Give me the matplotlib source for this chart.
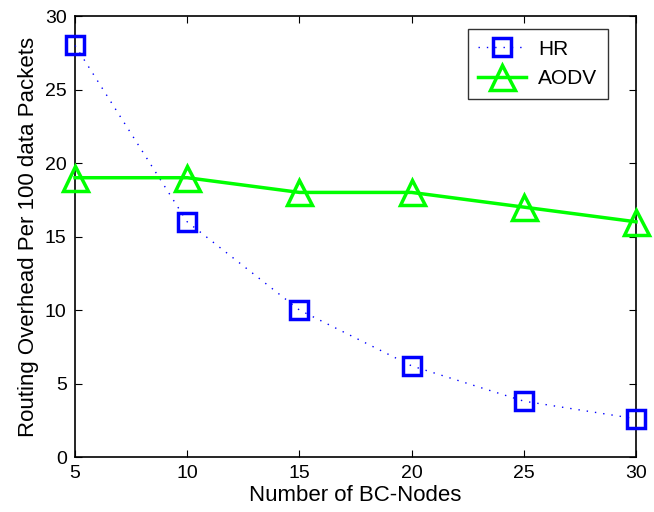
import matplotlib
matplotlib.use("Agg")
import matplotlib.pyplot as plt

x_nodes = [5, 10, 15, 20, 25, 30]
hr = [28, 16, 10, 6.2, 3.8, 2.6]
aodv = [19, 19, 18, 18, 17, 16]
xticks = [5, 10, 15, 20, 25, 30]
yticks = [0, 5, 10, 15, 20, 25, 30]

plt.rcParams['font.family'] = ['Liberation Sans', 'DejaVu Sans']

fig = plt.figure(figsize=(6.54, 5.12), dpi=100)
ax = fig.add_axes([0.1147, 0.1074, 0.8578, 0.8613])

ax.plot(x_nodes, hr, color='#0000ff', linestyle=(0, (1, 5)), linewidth=1.0,
        marker='s', markersize=13, markerfacecolor='none',
        markeredgecolor='#0000ff', markeredgewidth=2.5, label='HR', clip_on=False, zorder=3)
ax.plot(x_nodes, aodv, color='#00ff00', linestyle='-', linewidth=2.5,
        marker='^', markersize=18, markerfacecolor='none',
        markeredgecolor='#00ff00', markeredgewidth=2.5, label='AODV', clip_on=False, zorder=3)

ax.set_xlim(5, 30)
ax.set_ylim(0, 30)
ax.set_xticks(xticks)
ax.set_yticks(yticks)
ax.tick_params(direction='in', length=5, labelsize=14, top=True, right=True, pad=6)
for s in ax.spines.values():
    s.set_linewidth(1.2)
ax.set_xlabel('Number of BC-Nodes', fontsize=16, labelpad=2)
ax.set_ylabel('Routing Overhead Per 100 data Packets', fontsize=16, labelpad=4)

leg = ax.legend(loc='upper right', fontsize=15, frameon=True, fancybox=False,
                edgecolor='black', bbox_to_anchor=(0.95, 0.97), borderaxespad=0,
                handlelength=2.3, borderpad=0.5, labelspacing=0.5, handletextpad=0.6)
leg.get_frame().set_linewidth(1.0)

fig.savefig('out.png', dpi=100)
